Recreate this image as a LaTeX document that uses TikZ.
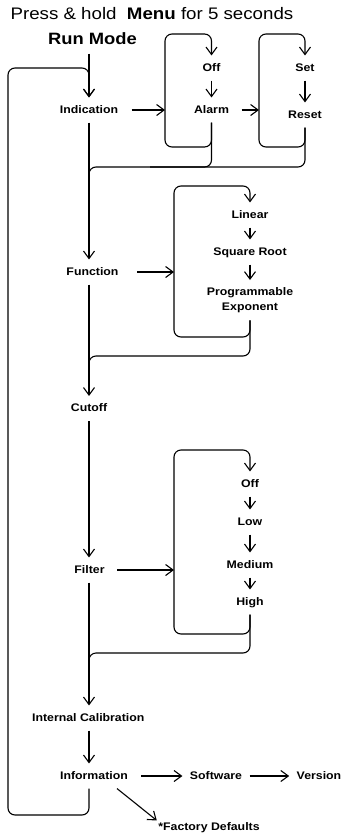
\documentclass[tikz,border=0pt]{standalone}
\usepackage{fontspec}
\setmainfont{Liberation Sans}[FakeStretch=1.12]
\usetikzlibrary{arrows.meta}
\begin{document}
\begin{tikzpicture}[x=1pt,y=-1pt,line width=1.1pt,
  lbl/.style={font=\fontsize{11}{15}\selectfont\bfseries, inner xsep=7pt, inner ysep=7pt, text height=8pt, text depth=2pt, anchor=base},
  arr/.style={-{Straight Barb[length=7.5pt,width=11pt]}},
  lnk/.style={rounded corners=7pt}]
\useasboundingbox (0,0) rectangle (354,836);
% headings
\node[anchor=base west, inner sep=0, font=\fontsize{16.7}{19}\selectfont] (title) at (10,19) {Press \& hold\ \ \textbf{Menu} for 5 seconds};
\node[anchor=base, inner xsep=0, inner ysep=9pt, font=\fontsize{16.4}{19}\selectfont\bfseries] (run) at (92.5,44) {Run Mode};
% main column
\node[lbl] (ind) at (89,113) {Indication};
\node[lbl] (func) at (92.5,275) {Function};
\node[lbl] (cut) at (89,411.5) {Cutoff};
\node[lbl] (filt) at (89.5,573) {Filter};
\node[lbl] (ic) at (88.3,721) {Internal Calibration};
\node[lbl] (info) at (94,779) {Information};
\node[lbl] (soft) at (216,779) {Software};
\node[lbl] (ver) at (319,779) {Version};
\node[lbl, inner sep=1pt] (fact) at (209,830) {*Factory Defaults};
% sub menus
\node[lbl] (off1) at (211.5,71) {Off};
\node[lbl] (alarm) at (211.5,113) {Alarm};
\node[lbl] (set) at (305,71) {Set};
\node[lbl] (reset) at (305,118) {Reset};
\node[lbl] (lin) at (250,218) {Linear};
\node[lbl] (sq) at (250,255) {Square Root};
\node[font=\fontsize{11}{15}\selectfont\bfseries, align=center, inner xsep=7pt, inner ysep=7pt, anchor=north] (prog) at (250,280) {Programmable\\Exponent};
\node[lbl] (off2) at (250,487) {Off};
\node[lbl] (low) at (250,525) {Low};
\node[lbl] (med) at (250,568) {Medium};
\node[lbl] (high) at (250,605) {High};
% corner coordinates
\coordinate (ltop) at (89,68);
\coordinate (lbot) at (8,815);
\coordinate (b1bl) at (165,147);
\coordinate (b1tr) at (211.5,34);
\coordinate (b2bl) at (259,147);
\coordinate (b2tr) at (305,34);
\coordinate (m1) at (89,167);
\coordinate (m1a) at (150,167);
\coordinate (b3bl) at (174,337);
\coordinate (b3tr) at (250,186);
\coordinate (m2) at (89,356);
\coordinate (b4bl) at (174,634);
\coordinate (b4tr) at (250,450);
\coordinate (m3) at (89,653);
% entry and return loop
\draw[arr] (run.south -| ind) -- (ind.north);
\draw[lnk,arr] (ind.south |- info.south) |- (lbot) |- (ltop) -- (ind.north);
% spine
\draw[arr] (ind.south) -- (ind.south |- func.north);
\draw[arr] (func.south -| ind) -- (cut.north);
\draw[arr] (cut.south) -- (cut.south |- filt.north);
\draw[arr] (cut |- filt.south) -- (cut |- ic.north);
\draw[arr] (cut |- ic.south) -- (cut |- info.north);
% indication submenus
\draw[arr, shorten <=6pt] (ind.east) -- (ind.east -| b1bl);
\draw[lnk,arr] (alarm.south) |- (b1bl) |- (b1tr) -- (off1.north);
\draw[arr] (off1.south) -- (alarm.north);
\draw[lnk] (alarm.south) |- (m1a);
\draw[arr, shorten <=5pt] (alarm.east) -- (alarm.east -| b2bl);
\draw[lnk,arr] (reset.south) |- (b2bl) |- (b2tr) -- (set.north);
\draw[arr] (set.south) -- (reset.north);
\draw[lnk] (reset.south) |- (m1) -- ++(0,20);
% function submenu
\draw[arr, shorten <=11pt] (func.east) -- (func.east -| b3bl);
\draw[lnk,arr] (prog.south) |- (b3bl) |- (b3tr) -- (lin.north);
\draw[arr] (lin.south) -- (sq.north);
\draw[arr] (sq.south) -- (prog.north);
\draw[lnk] (prog.south) |- (m2) -- ++(0,20);
% filter submenu
\draw[arr, shorten <=5pt] (filt.east) -- (filt.east -| b4bl);
\draw[lnk,arr] (high.south) |- (b4bl) |- (b4tr) -- (off2.north);
\draw[arr] (off2.south) -- (low.north);
\draw[arr] (low.south) -- (med.north);
\draw[arr] (med.south) -- (high.north);
\draw[lnk] (high.south) |- (m3) -- ++(0,20);
% information
\draw[arr, shorten <=6pt] (info.east) -- (soft.west);
\draw[arr] (soft.east) -- (ver.west);
\draw[arr] ([xshift=23pt]info.south) -- (fact.north west);
\end{tikzpicture}
\end{document}
